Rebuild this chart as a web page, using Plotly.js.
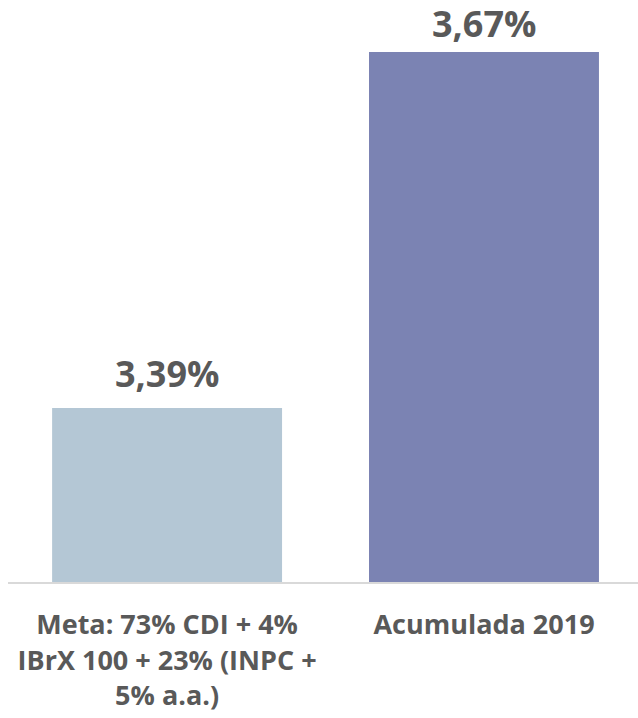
<!DOCTYPE html>
<html>
<head>
<meta charset="utf-8">
<script src="https://cdn.plot.ly/plotly-3.0.1.min.js"></script>
<style>html,body{margin:0;padding:0;background:#fff;}#chart{width:638px;height:718px;}</style>
</head>
<body>
<div id="chart"></div>
<script>
const categories = ["Meta: 73% CDI + 4%<br>IBrX 100 + 23% (INPC +<br>5% a.a.)", "Acumulada 2019"];
const values = [3.39, 3.67];
const labels = ["3,39%", "3,67%"];
const colors = ["#B4C7D5", "#7B83B3"];

const positions = categories.map((c, i) => i);
const labelShifts = [9, 3];

const trace = {
  type: "bar",
  x: positions,
  y: values,
  width: 0.7256,
  marker: {color: colors, line: {width: 0}},
  cliponaxis: false,
  hoverinfo: "none"
};

const annotations = positions.map((p, i) => ({
  x: p, y: values[i], xref: "x", yref: "y",
  text: labels[i], showarrow: false, borderpad: 0,
  xanchor: "center", yanchor: "bottom", yshift: labelShifts[i],
  font: {family: "Open Sans", size: 36, color: "#595959", weight: 700}
}));

const layout = {
  width: 638, height: 718,
  margin: {l: 8, r: 0, t: 0, b: 136},
  paper_bgcolor: "#fff", plot_bgcolor: "#fff",
  showlegend: false,
  font: {family: "Open Sans", color: "#595959"},
  annotations: annotations,
  xaxis: {
    range: [-0.502, 1.486],
    tickvals: positions,
    ticktext: categories,
    tickfont: {family: "Open Sans", size: 27, color: "#595959", weight: 700},
    showgrid: false, zeroline: false,
    showline: true, linecolor: "#D9D9D9", linewidth: 2,
    ticks: "", ticklabelstandoff: 18
  },
  yaxis: {
    range: [3.253, 3.711],
    visible: false, showgrid: false, zeroline: false
  }
};

Plotly.newPlot("chart", [trace], layout, {displayModeBar: false, staticPlot: true});
</script>
</body>
</html>
